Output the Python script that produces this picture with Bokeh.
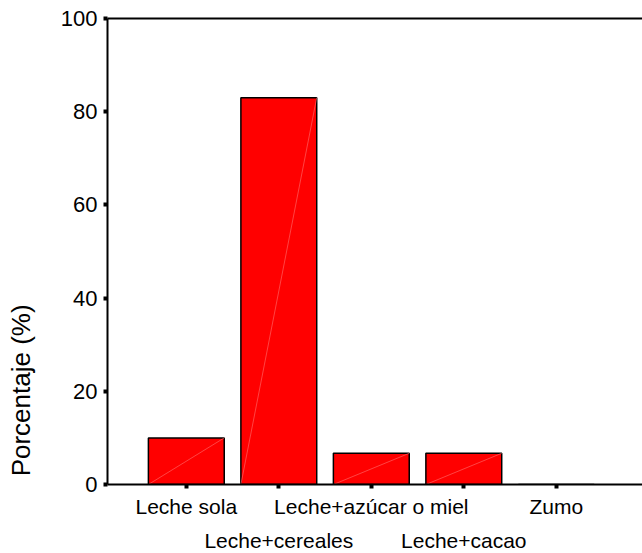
from bokeh.plotting import figure
from bokeh.models import LinearAxis, FixedTicker, Range1d, ColumnDataSource
from bokeh.embed import file_html
from bokeh.resources import INLINE

categories = ["Leche sola", "Leche+cereales", "Leche+azúcar o miel", "Leche+cacao", "Zumo"]
percentages = [10.0, 83.0, 6.7, 6.7, 0.0]
y_ticks = [0, 20, 40, 60, 80, 100]
y_title = "Porcentaje (%)"

positions = list(range(1, len(categories) + 1))
bar_width = 0.82
FONT = "Liberation Sans"
TITLE_CENTER = 20.2  # vertical position (in axis units) where the y title is centred

src = ColumnDataSource(dict(
    x=positions,
    top=percentages,
    x0=[x - bar_width / 2 for x in positions],
    x1=[x + bar_width / 2 for x in positions],
    y0=[0] * len(positions),
))

p = figure(frame_width=535, frame_height=466,
           x_range=Range1d(0.148, 5.932), y_range=Range1d(0, 100),
           output_backend="svg", toolbar_location=None,
           x_axis_location=None, y_axis_location=None,
           min_border_left=107, min_border_right=0, min_border_top=18, min_border_bottom=0)
p.grid.grid_line_color = None
p.outline_line_color = None
p.background_fill_color = "white"
p.border_fill_color = "white"

p.vbar(x="x", top="top", bottom=0, width=bar_width, source=src,
       fill_color="#ff0000", line_color="black", line_width=1.5)
p.segment(x0="x0", y0="y0", x1="x1", y1="top", source=src,
          line_color="#ff7070", line_width=0.6)

def style_axis(ax):
    ax.axis_line_color = "black"
    ax.axis_line_width = 2
    ax.major_tick_line_color = "black"
    ax.major_tick_line_width = 4
    ax.major_tick_in = 0
    ax.major_tick_out = 4
    ax.minor_tick_line_color = None
    ax.major_label_text_font = FONT
    ax.major_label_text_font_size = "21px"
    ax.major_label_text_color = "black"

yaxis = LinearAxis(ticker=FixedTicker(ticks=y_ticks))
style_axis(yaxis)
yaxis.major_label_text_font_size = "22px"
yaxis.major_label_standoff = 6
p.add_layout(yaxis, "left")

# outer left "axis" that only carries the y title, placed low like the original
ytitle_axis = LinearAxis(ticker=FixedTicker(ticks=[TITLE_CENTER]),
                         major_label_overrides={TITLE_CENTER: y_title})
ytitle_axis.axis_line_color = None
ytitle_axis.major_tick_line_color = None
ytitle_axis.minor_tick_line_color = None
ytitle_axis.major_tick_out = 0
ytitle_axis.major_tick_in = 0
ytitle_axis.major_label_orientation = "vertical"
ytitle_axis.major_label_standoff = 21
ytitle_axis.major_label_text_font = FONT
ytitle_axis.major_label_text_font_size = "26px"
ytitle_axis.major_label_text_color = "black"
p.add_layout(ytitle_axis, "left")

row1 = {pos: (cat if i % 2 == 0 else "") for i, (pos, cat) in enumerate(zip(positions, categories))}
row2 = {pos: (cat if i % 2 == 1 else "") for i, (pos, cat) in enumerate(zip(positions, categories))}

xaxis1 = LinearAxis(ticker=FixedTicker(ticks=positions), major_label_overrides=row1)
style_axis(xaxis1)
xaxis1.major_label_standoff = 6
p.add_layout(xaxis1, "below")

xaxis2 = LinearAxis(ticker=FixedTicker(ticks=positions), major_label_overrides=row2)
style_axis(xaxis2)
xaxis2.axis_line_color = None
xaxis2.major_tick_line_color = None
xaxis2.major_tick_out = 0
xaxis2.major_label_standoff = 8
p.add_layout(xaxis2, "below")

top_axis = LinearAxis(ticker=FixedTicker(ticks=[]))
top_axis.axis_line_color = "black"
top_axis.axis_line_width = 2
top_axis.major_tick_out = 0
top_axis.major_tick_in = 0
top_axis.minor_tick_out = 0
top_axis.minor_tick_in = 0
top_axis.major_label_standoff = 0
p.add_layout(top_axis, "above")

open("out.html", "w").write(file_html(p, INLINE))
